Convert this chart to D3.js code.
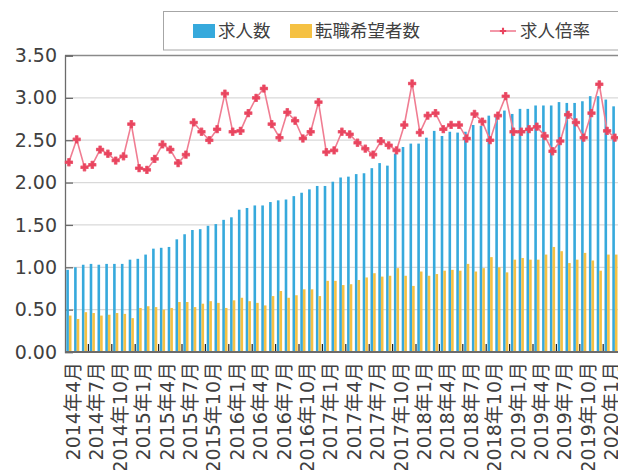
<!DOCTYPE html>
<html>
<head>
<meta charset="utf-8">
<script src="https://cdn.jsdelivr.net/npm/d3@7"></script>
<style>
  body { margin: 0; background: #fff; }
  svg { display: block; }
</style>
</head>
<body>
<svg id="chart" width="618" height="470"></svg>
<script>
// monthly categories, 2014年4月 .. 2020年2月
const startYear = 2014, startMonth = 4, monthCount = 71;
const categories = [];
for (let i = 0; i < monthCount; i++) {
  const m = startMonth - 1 + i;
  categories.push(`${startYear + Math.floor(m / 12)}年${(m % 12) + 1}月`);
}

// 求人数
const jobOffers = [
  0.97, 1.00, 1.03, 1.04, 1.03, 1.04, 1.04, 1.04, 1.09, 1.10, 1.15, 1.22, 1.23, 1.24,
  1.33, 1.39, 1.44, 1.45, 1.49, 1.51, 1.56, 1.59, 1.68, 1.70, 1.73, 1.73, 1.77, 1.79,
  1.80, 1.84, 1.88, 1.92, 1.96, 1.96, 2.01, 2.06, 2.07, 2.10, 2.11, 2.17, 2.23, 2.20,
  2.34, 2.42, 2.46, 2.46, 2.53, 2.61, 2.55, 2.60, 2.59, 2.60, 2.68, 2.67, 2.79, 2.78,
  2.85, 2.81, 2.87, 2.87, 2.91, 2.91, 2.91, 2.95, 2.94, 2.94, 2.96, 3.02, 3.02, 2.98, 2.90
];
// 転職希望者数
const jobSeekers = [
  0.43, 0.39, 0.47, 0.46, 0.43, 0.44, 0.46, 0.45, 0.40, 0.52, 0.54, 0.53, 0.50, 0.52,
  0.59, 0.59, 0.53, 0.57, 0.60, 0.58, 0.52, 0.61, 0.64, 0.60, 0.58, 0.55, 0.66, 0.72,
  0.64, 0.67, 0.74, 0.74, 0.66, 0.84, 0.84, 0.79, 0.80, 0.85, 0.88, 0.93, 0.89, 0.90,
  0.99, 0.90, 0.78, 0.95, 0.90, 0.92, 0.96, 0.97, 0.96, 1.04, 0.95, 0.99, 1.12, 1.00,
  0.94, 1.09, 1.11, 1.09, 1.09, 1.15, 1.24, 1.19, 1.05, 1.09, 1.17, 1.08, 0.96, 1.15, 1.15
];
// 求人倍率
const offerRatio = [
  2.24, 2.51, 2.18, 2.21, 2.39, 2.34, 2.26, 2.31, 2.69, 2.17, 2.15, 2.28, 2.45, 2.39,
  2.23, 2.33, 2.71, 2.60, 2.50, 2.63, 3.05, 2.60, 2.61, 2.82, 3.00, 3.11, 2.69, 2.53,
  2.83, 2.73, 2.52, 2.60, 2.95, 2.36, 2.38, 2.60, 2.57, 2.47, 2.40, 2.33, 2.49, 2.44,
  2.38, 2.68, 3.17, 2.59, 2.79, 2.82, 2.63, 2.68, 2.68, 2.52, 2.81, 2.72, 2.50, 2.79,
  3.02, 2.60, 2.60, 2.63, 2.66, 2.55, 2.37, 2.49, 2.80, 2.71, 2.53, 2.82, 3.16, 2.61, 2.53
];
const yTicks = [0, 0.5, 1, 1.5, 2, 2.5, 3, 3.5];
const seriesNames = ["求人数", "転職希望者数", "求人倍率"];

const blue = "#36a9dc", yellow = "#f5c143", red = "#e9455f", redLine = "#f07d92";
const textColor = "#404040";
const numFont = "'DejaVu Sans', 'Noto Sans CJK JP', sans-serif";
const cjkFont = "'Noto Sans CJK JP', sans-serif";

const margin = {left: 65, top: 55.5, bottom: 352};
const step = 7.8;

const svg = d3.select("#chart");

const x = d3.scaleBand()
  .domain(categories)
  .range([margin.left, margin.left + step * categories.length])
  .paddingInner(1 / 3)
  .paddingOuter(1 / 6);

const xSub = d3.scaleBand()
  .domain([0, 1])
  .range([0, x.bandwidth()]);

const y = d3.scaleLinear()
  .domain([0, 3.5])
  .range([margin.bottom, margin.top]);

// gridlines
svg.append("g")
  .selectAll("line")
  .data(yTicks.filter(d => d > 0))
  .join("line")
  .attr("x1", margin.left).attr("x2", 618)
  .attr("y1", d => y(d)).attr("y2", d => y(d))
  .attr("stroke", d => d === 3.5 ? "#8a8a8a" : "#d9d9d9")
  .attr("stroke-width", 1.3);

// y axis (inside ticks)
const yAxis = svg.append("g")
  .attr("transform", `translate(${margin.left},0)`)
  .call(d3.axisRight(y).tickValues(yTicks).tickSize(8).tickFormat(d3.format(".2f")));
yAxis.select(".domain").attr("stroke", "#6b6b6b").attr("stroke-width", 1.3);
yAxis.selectAll(".tick line").attr("stroke", "#6b6b6b").attr("stroke-width", 1.3);
yAxis.selectAll(".tick text")
  .attr("x", -8)
  .attr("text-anchor", "end")
  .attr("fill", textColor)
  .style("font-family", numFont)
  .style("font-size", "19px");

// bars
const bars = svg.append("g");
bars.selectAll(".offer")
  .data(categories)
  .join("rect")
  .attr("x", d => x(d) + xSub(0))
  .attr("y", (d, i) => y(jobOffers[i]))
  .attr("width", xSub.bandwidth())
  .attr("height", (d, i) => y(0) - y(jobOffers[i]))
  .attr("fill", blue);
bars.selectAll(".seeker")
  .data(categories)
  .join("rect")
  .attr("x", d => x(d) + xSub(1))
  .attr("y", (d, i) => y(jobSeekers[i]))
  .attr("width", xSub.bandwidth())
  .attr("height", (d, i) => y(0) - y(jobSeekers[i]))
  .attr("fill", yellow);

// x axis line + boundary ticks every 3 months
const outer = (x.step() - x.bandwidth()) / 2;
svg.append("g")
  .selectAll("line")
  .data(categories.filter((d, i) => i % 3 === 0 && i > 0))
  .join("line")
  .attr("x1", d => x(d) - outer).attr("x2", d => x(d) - outer)
  .attr("y1", margin.bottom).attr("y2", margin.bottom - 8)
  .attr("stroke", "#222").attr("stroke-width", 1.2);

svg.append("line")
  .attr("x1", margin.left).attr("x2", 618)
  .attr("y1", margin.bottom).attr("y2", margin.bottom)
  .attr("stroke", "#6b6b6b").attr("stroke-width", 2);

// rotated month labels
svg.append("g")
  .selectAll("text")
  .data(categories.filter((d, i) => i % 3 === 0))
  .join("text")
  .attr("transform", d => `translate(${x(d) + x.bandwidth() / 2 + 4.5},${margin.bottom + 10}) rotate(-90)`)
  .attr("text-anchor", "end")
  .attr("dy", "0.35em")
  .attr("fill", textColor)
  .style("font-family", numFont)
  .style("font-size", "19px")
  .text(d => d);

// ratio line
const line = d3.line()
  .x((d, i) => x(categories[i]) + x.bandwidth() / 2)
  .y(d => y(d));
svg.append("path")
  .datum(offerRatio)
  .attr("d", line)
  .attr("fill", "none")
  .attr("stroke", redLine)
  .attr("stroke-width", 1.6);

const marker = d3.symbol().type(d3.symbolCross).size(28);
svg.append("g")
  .selectAll("path")
  .data(offerRatio)
  .join("path")
  .attr("transform", (d, i) => `translate(${x(categories[i]) + x.bandwidth() / 2},${y(d)})`)
  .attr("d", marker)
  .attr("fill", red)
  .attr("stroke", red)
  .attr("stroke-width", 1.2)
  .attr("stroke-linejoin", "round")
  .attr("stroke-opacity", 0.8);

// legend
const legend = svg.append("g");
legend.append("rect")
  .attr("x", 163.5).attr("y", 11.5)
  .attr("width", 460).attr("height", 38.5)
  .attr("fill", "#fff")
  .attr("stroke", "#a6a6a6");

const legendItems = [
  {name: seriesNames[0], x: 193, type: "bar", color: blue},
  {name: seriesNames[1], x: 290, type: "bar", color: yellow},
  {name: seriesNames[2], x: 490, type: "line", color: red}
];
const li = legend.selectAll(".item")
  .data(legendItems)
  .join("g")
  .attr("transform", d => `translate(${d.x},31)`);

li.filter(d => d.type === "bar").append("rect")
  .attr("x", 0).attr("y", -7)
  .attr("width", 22).attr("height", 14)
  .attr("fill", d => d.color);

const lineItem = li.filter(d => d.type === "line");
lineItem.append("line")
  .attr("x1", 0).attr("x2", 26).attr("y1", 0).attr("y2", 0)
  .attr("stroke", redLine).attr("stroke-width", 1.6);
lineItem.append("path")
  .attr("transform", "translate(13,0)")
  .attr("d", d3.symbol().type(d3.symbolCross).size(22))
  .attr("fill", red);

li.append("text")
  .attr("x", d => d.type === "line" ? 30 : 25)
  .attr("dy", "0.36em")
  .attr("fill", textColor)
  .style("font-family", cjkFont)
  .style("font-size", "17.5px")
  .text(d => d.name);
</script>
</body>
</html>
